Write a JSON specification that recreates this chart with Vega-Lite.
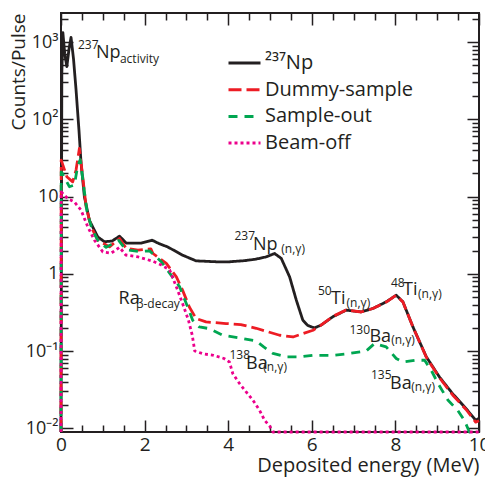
{
  "$schema": "https://vega.github.io/schema/vega-lite/v6.json",
  "width": 418,
  "height": 419,
  "autosize": {"type": "none"},
  "padding": {"left": 61, "top": 13, "right": 6, "bottom": 47},
  "config": {
    "font": "Open Sans",
    "view": {"stroke": "#231f20", "strokeWidth": 2},
    "axis": {"domain": false, "grid": false, "labelColor": "#231f20", "titleColor": "#231f20", "labelFont": "Open Sans", "titleFont": "Open Sans", "titleFontWeight": "normal"},
    "text": {"font": "Open Sans", "color": "#231f20"}
  },
  "datasets": {
    "curves": [
      {"s": "²³⁷Np", "E": 0.0, "v": 0.00895},
      {"s": "²³⁷Np", "E": 0.02, "v": 400},
      {"s": "²³⁷Np", "E": 0.045, "v": 1320},
      {"s": "²³⁷Np", "E": 0.09, "v": 700},
      {"s": "²³⁷Np", "E": 0.14, "v": 480},
      {"s": "²³⁷Np", "E": 0.19, "v": 800},
      {"s": "²³⁷Np", "E": 0.24, "v": 1150},
      {"s": "²³⁷Np", "E": 0.30, "v": 600},
      {"s": "²³⁷Np", "E": 0.36, "v": 240},
      {"s": "²³⁷Np", "E": 0.43, "v": 72},
      {"s": "²³⁷Np", "E": 0.48, "v": 27},
      {"s": "²³⁷Np", "E": 0.56, "v": 9.9},
      {"s": "²³⁷Np", "E": 0.68, "v": 4.9},
      {"s": "²³⁷Np", "E": 0.88, "v": 3.0},
      {"s": "²³⁷Np", "E": 1.04, "v": 2.6},
      {"s": "²³⁷Np", "E": 1.22, "v": 2.65},
      {"s": "²³⁷Np", "E": 1.40, "v": 3.07},
      {"s": "²³⁷Np", "E": 1.56, "v": 2.5},
      {"s": "²³⁷Np", "E": 1.92, "v": 2.5},
      {"s": "²³⁷Np", "E": 2.18, "v": 2.72},
      {"s": "²³⁷Np", "E": 2.35, "v": 2.45},
      {"s": "²³⁷Np", "E": 2.55, "v": 2.23},
      {"s": "²³⁷Np", "E": 2.91, "v": 1.74},
      {"s": "²³⁷Np", "E": 3.23, "v": 1.47},
      {"s": "²³⁷Np", "E": 3.71, "v": 1.43},
      {"s": "²³⁷Np", "E": 4.03, "v": 1.43},
      {"s": "²³⁷Np", "E": 4.4, "v": 1.48},
      {"s": "²³⁷Np", "E": 4.67, "v": 1.55},
      {"s": "²³⁷Np", "E": 4.9, "v": 1.65},
      {"s": "²³⁷Np", "E": 5.11, "v": 1.83},
      {"s": "²³⁷Np", "E": 5.27, "v": 1.58},
      {"s": "²³⁷Np", "E": 5.47, "v": 0.91},
      {"s": "²³⁷Np", "E": 5.63, "v": 0.455},
      {"s": "²³⁷Np", "E": 5.785, "v": 0.251},
      {"s": "²³⁷Np", "E": 5.9, "v": 0.215},
      {"s": "²³⁷Np", "E": 6.06, "v": 0.199},
      {"s": "²³⁷Np", "E": 6.22, "v": 0.216},
      {"s": "²³⁷Np", "E": 6.5, "v": 0.277},
      {"s": "²³⁷Np", "E": 6.82, "v": 0.338},
      {"s": "²³⁷Np", "E": 7.18, "v": 0.321},
      {"s": "²³⁷Np", "E": 7.46, "v": 0.355},
      {"s": "²³⁷Np", "E": 7.78, "v": 0.433},
      {"s": "²³⁷Np", "E": 8.02, "v": 0.528},
      {"s": "²³⁷Np", "E": 8.18, "v": 0.433},
      {"s": "²³⁷Np", "E": 8.42, "v": 0.205},
      {"s": "²³⁷Np", "E": 8.74, "v": 0.084},
      {"s": "²³⁷Np", "E": 9.055, "v": 0.046},
      {"s": "²³⁷Np", "E": 9.37, "v": 0.028},
      {"s": "²³⁷Np", "E": 9.69, "v": 0.018},
      {"s": "²³⁷Np", "E": 9.92, "v": 0.0127},
      {"s": "²³⁷Np", "E": 10.0, "v": 0.0135},

      {"s": "Dummy-sample", "E": 0.0, "v": 0.00895},
      {"s": "Dummy-sample", "E": 0.005, "v": 29.6},
      {"s": "Dummy-sample", "E": 0.14, "v": 18},
      {"s": "Dummy-sample", "E": 0.28, "v": 15.5},
      {"s": "Dummy-sample", "E": 0.36, "v": 22},
      {"s": "Dummy-sample", "E": 0.44, "v": 42},
      {"s": "Dummy-sample", "E": 0.52, "v": 18},
      {"s": "Dummy-sample", "E": 0.60, "v": 7.4},
      {"s": "Dummy-sample", "E": 0.72, "v": 4.06},
      {"s": "Dummy-sample", "E": 0.88, "v": 2.72},
      {"s": "Dummy-sample", "E": 1.16, "v": 2.23},
      {"s": "Dummy-sample", "E": 1.40, "v": 2.86},
      {"s": "Dummy-sample", "E": 1.56, "v": 2.13},
      {"s": "Dummy-sample", "E": 1.84, "v": 2.02},
      {"s": "Dummy-sample", "E": 2.15, "v": 2.1},
      {"s": "Dummy-sample", "E": 2.2, "v": 1.83},
      {"s": "Dummy-sample", "E": 2.52, "v": 1.36},
      {"s": "Dummy-sample", "E": 2.76, "v": 0.91},
      {"s": "Dummy-sample", "E": 2.91, "v": 0.61},
      {"s": "Dummy-sample", "E": 3.07, "v": 0.372},
      {"s": "Dummy-sample", "E": 3.23, "v": 0.264},
      {"s": "Dummy-sample", "E": 3.47, "v": 0.238},
      {"s": "Dummy-sample", "E": 3.95, "v": 0.227},
      {"s": "Dummy-sample", "E": 4.3, "v": 0.22},
      {"s": "Dummy-sample", "E": 4.67, "v": 0.197},
      {"s": "Dummy-sample", "E": 5.23, "v": 0.16},
      {"s": "Dummy-sample", "E": 5.55, "v": 0.152},
      {"s": "Dummy-sample", "E": 6.03, "v": 0.186},
      {"s": "Dummy-sample", "E": 6.22, "v": 0.216},
      {"s": "Dummy-sample", "E": 6.5, "v": 0.28},
      {"s": "Dummy-sample", "E": 6.82, "v": 0.34},
      {"s": "Dummy-sample", "E": 7.18, "v": 0.32},
      {"s": "Dummy-sample", "E": 7.46, "v": 0.355},
      {"s": "Dummy-sample", "E": 7.78, "v": 0.43},
      {"s": "Dummy-sample", "E": 8.02, "v": 0.53},
      {"s": "Dummy-sample", "E": 8.18, "v": 0.43},
      {"s": "Dummy-sample", "E": 8.42, "v": 0.205},
      {"s": "Dummy-sample", "E": 8.74, "v": 0.083},
      {"s": "Dummy-sample", "E": 9.055, "v": 0.045},
      {"s": "Dummy-sample", "E": 9.37, "v": 0.027},
      {"s": "Dummy-sample", "E": 9.69, "v": 0.0175},
      {"s": "Dummy-sample", "E": 9.92, "v": 0.012},
      {"s": "Dummy-sample", "E": 10.0, "v": 0.0125},

      {"s": "Sample-out", "E": 0.0, "v": 0.00895},
      {"s": "Sample-out", "E": 0.005, "v": 20.9},
      {"s": "Sample-out", "E": 0.04, "v": 19.5},
      {"s": "Sample-out", "E": 0.2, "v": 13.4},
      {"s": "Sample-out", "E": 0.32, "v": 14.1},
      {"s": "Sample-out", "E": 0.40, "v": 25},
      {"s": "Sample-out", "E": 0.46, "v": 30},
      {"s": "Sample-out", "E": 0.54, "v": 14},
      {"s": "Sample-out", "E": 0.62, "v": 6.5},
      {"s": "Sample-out", "E": 0.74, "v": 3.8},
      {"s": "Sample-out", "E": 0.9, "v": 2.6},
      {"s": "Sample-out", "E": 1.08, "v": 2.2},
      {"s": "Sample-out", "E": 1.38, "v": 2.7},
      {"s": "Sample-out", "E": 1.55, "v": 2.05},
      {"s": "Sample-out", "E": 1.85, "v": 1.95},
      {"s": "Sample-out", "E": 2.12, "v": 1.98},
      {"s": "Sample-out", "E": 2.4, "v": 1.43},
      {"s": "Sample-out", "E": 2.84, "v": 0.676},
      {"s": "Sample-out", "E": 3.03, "v": 0.372},
      {"s": "Sample-out", "E": 3.15, "v": 0.251},
      {"s": "Sample-out", "E": 3.31, "v": 0.205},
      {"s": "Sample-out", "E": 3.55, "v": 0.195},
      {"s": "Sample-out", "E": 3.87, "v": 0.16},
      {"s": "Sample-out", "E": 4.35, "v": 0.145},
      {"s": "Sample-out", "E": 4.67, "v": 0.135},
      {"s": "Sample-out", "E": 4.85, "v": 0.113},
      {"s": "Sample-out", "E": 5.07, "v": 0.093},
      {"s": "Sample-out", "E": 5.39, "v": 0.084},
      {"s": "Sample-out", "E": 5.71, "v": 0.084},
      {"s": "Sample-out", "E": 6.02, "v": 0.088},
      {"s": "Sample-out", "E": 6.5, "v": 0.088},
      {"s": "Sample-out", "E": 6.9, "v": 0.093},
      {"s": "Sample-out", "E": 7.3, "v": 0.1},
      {"s": "Sample-out", "E": 7.5, "v": 0.125},
      {"s": "Sample-out", "E": 7.78, "v": 0.113},
      {"s": "Sample-out", "E": 8.02, "v": 0.08},
      {"s": "Sample-out", "E": 8.18, "v": 0.072},
      {"s": "Sample-out", "E": 8.5, "v": 0.076},
      {"s": "Sample-out", "E": 8.7, "v": 0.076},
      {"s": "Sample-out", "E": 8.86, "v": 0.056},
      {"s": "Sample-out", "E": 9.02, "v": 0.038},
      {"s": "Sample-out", "E": 9.26, "v": 0.023},
      {"s": "Sample-out", "E": 9.49, "v": 0.0171},
      {"s": "Sample-out", "E": 9.65, "v": 0.0127},
      {"s": "Sample-out", "E": 9.77, "v": 0.00895},
      {"s": "Sample-out", "E": 9.85, "v": 0.00895},

      {"s": "Beam-off", "E": 0.0, "v": 0.00895},
      {"s": "Beam-off", "E": 0.005, "v": 11.5},
      {"s": "Beam-off", "E": 0.16, "v": 9.4},
      {"s": "Beam-off", "E": 0.32, "v": 8.5},
      {"s": "Beam-off", "E": 0.48, "v": 6.66},
      {"s": "Beam-off", "E": 0.64, "v": 4.06},
      {"s": "Beam-off", "E": 0.80, "v": 2.72},
      {"s": "Beam-off", "E": 1.0, "v": 1.92},
      {"s": "Beam-off", "E": 1.2, "v": 1.85},
      {"s": "Beam-off", "E": 1.4, "v": 2.2},
      {"s": "Beam-off", "E": 1.55, "v": 1.75},
      {"s": "Beam-off", "E": 1.85, "v": 1.65},
      {"s": "Beam-off", "E": 2.2, "v": 1.45},
      {"s": "Beam-off", "E": 2.4, "v": 1.3},
      {"s": "Beam-off", "E": 2.6, "v": 1.12},
      {"s": "Beam-off", "E": 2.75, "v": 0.7},
      {"s": "Beam-off", "E": 2.91, "v": 0.41},
      {"s": "Beam-off", "E": 3.05, "v": 0.25},
      {"s": "Beam-off", "E": 3.14, "v": 0.16},
      {"s": "Beam-off", "E": 3.2, "v": 0.1},
      {"s": "Beam-off", "E": 3.4, "v": 0.092},
      {"s": "Beam-off", "E": 3.65, "v": 0.088},
      {"s": "Beam-off", "E": 3.9, "v": 0.08},
      {"s": "Beam-off", "E": 4.03, "v": 0.072},
      {"s": "Beam-off", "E": 4.11, "v": 0.051},
      {"s": "Beam-off", "E": 4.27, "v": 0.038},
      {"s": "Beam-off", "E": 4.43, "v": 0.0295},
      {"s": "Beam-off", "E": 4.59, "v": 0.0231},
      {"s": "Beam-off", "E": 4.75, "v": 0.0171},
      {"s": "Beam-off", "E": 4.87, "v": 0.0127},
      {"s": "Beam-off", "E": 5.0, "v": 0.0105},
      {"s": "Beam-off", "E": 5.07, "v": 0.00895},
      {"s": "Beam-off", "E": 10.0, "v": 0.00895}
    ],
    "notes": [
      {"p": "sup", "t": "237", "E": 0.407, "v": 824},
      {"p": "main", "t": "Np", "E": 0.837, "v": 629},
      {"p": "sub", "t": "activity", "E": 1.41, "v": 535},
      {"p": "sup", "t": "237", "E": 4.151, "v": 2.72},
      {"p": "main", "t": "Np", "E": 4.593, "v": 2.02},
      {"p": "sub", "t": "(n,γ)", "E": 5.27, "v": 1.85},
      {"p": "main", "t": "Ra", "E": 1.376, "v": 0.404},
      {"p": "sub", "t": "β-decay", "E": 1.794, "v": 0.358},
      {"p": "sup", "t": "138", "E": 4.031, "v": 0.0794},
      {"p": "main", "t": "Ba", "E": 4.426, "v": 0.059},
      {"p": "sub", "t": "(n,γ)", "E": 4.84, "v": 0.0545},
      {"p": "sup", "t": "50", "E": 6.148, "v": 0.528},
      {"p": "main", "t": "Ti", "E": 6.459, "v": 0.41},
      {"p": "sub", "t": "(n,γ)", "E": 6.83, "v": 0.369},
      {"p": "sup", "t": "48", "E": 7.895, "v": 0.67},
      {"p": "main", "t": "Ti", "E": 8.182, "v": 0.528},
      {"p": "sub", "t": "(n,γ)", "E": 8.541, "v": 0.483},
      {"p": "sup", "t": "130", "E": 6.902, "v": 0.1675},
      {"p": "main", "t": "Ba", "E": 7.38, "v": 0.131},
      {"p": "sub", "t": "(n,γ)", "E": 7.9, "v": 0.122},
      {"p": "sup", "t": "135", "E": 7.416, "v": 0.0438},
      {"p": "main", "t": "Ba", "E": 7.871, "v": 0.0325},
      {"p": "sub", "t": "(n,γ)", "E": 8.38, "v": 0.0305}
    ]
  },
  "resolve": {"axis": {"x": "independent", "y": "independent"}},
  "layer": [
    {
      "data": {"name": "curves"},
      "mark": {"type": "point", "opacity": 0},
      "encoding": {
        "x": {"field": "E", "type": "quantitative", "scale": {"domain": [0, 10], "nice": false, "zero": false},
          "axis": {"orient": "bottom", "values": [0.5, 1, 1.5, 2.5, 3, 3.5, 4.5, 5, 5.5, 6.5, 7, 7.5, 8.5, 9, 9.5], "ticks": true, "tickColor": "#231f20", "tickWidth": 1.5, "tickSize": 7, "offset": -7, "labels": false, "title": null}},
        "y": {"field": "v", "type": "quantitative", "scale": {"type": "log", "domain": [0.00895, 2375], "nice": false},
          "axis": {"orient": "left", "values": [0.02,0.03,0.04,0.05,0.06,0.07,0.08,0.09,0.2,0.3,0.4,0.5,0.6,0.7,0.8,0.9,2,3,4,5,6,7,8,9,20,30,40,50,60,70,80,90,200,300,400,500,600,700,800,900,2000], "ticks": true, "tickColor": "#231f20", "tickWidth": 1.5, "tickSize": 7, "offset": -7, "labels": false, "title": null}}
      }
    },
    {
      "data": {"name": "curves"},
      "mark": {"type": "point", "opacity": 0},
      "encoding": {
        "x": {"field": "E", "type": "quantitative", "scale": {"domain": [0, 10], "nice": false, "zero": false},
          "axis": {"orient": "top", "values": [0, 2, 4, 6, 8, 10], "ticks": true, "tickColor": "#231f20", "tickWidth": 1.5, "tickSize": 12, "offset": -12, "labels": false, "title": null}},
        "y": {"field": "v", "type": "quantitative", "scale": {"type": "log", "domain": [0.00895, 2375], "nice": false},
          "axis": {"orient": "right", "values": [0.01, 0.1, 1, 10, 100, 1000], "ticks": true, "tickColor": "#231f20", "tickWidth": 1.5, "tickSize": 12, "offset": -12, "labels": false, "title": null}}
      }
    },
    {
      "data": {"name": "curves"},
      "mark": {"type": "point", "opacity": 0},
      "encoding": {
        "x": {"field": "E", "type": "quantitative", "scale": {"domain": [0, 10], "nice": false, "zero": false},
          "axis": {"orient": "top", "values": [0.5, 1, 1.5, 2.5, 3, 3.5, 4.5, 5, 5.5, 6.5, 7, 7.5, 8.5, 9, 9.5], "ticks": true, "tickColor": "#231f20", "tickWidth": 1.5, "tickSize": 7, "offset": -7, "labels": false, "title": null}},
        "y": {"field": "v", "type": "quantitative", "scale": {"type": "log", "domain": [0.00895, 2375], "nice": false},
          "axis": {"orient": "right", "values": [0.02,0.03,0.04,0.05,0.06,0.07,0.08,0.09,0.2,0.3,0.4,0.5,0.6,0.7,0.8,0.9,2,3,4,5,6,7,8,9,20,30,40,50,60,70,80,90,200,300,400,500,600,700,800,900,2000], "ticks": true, "tickColor": "#231f20", "tickWidth": 1.5, "tickSize": 7, "offset": -7, "labels": false, "title": null}}
      }
    },
    {
      "data": {"name": "curves"},
      "mark": {"type": "line", "strokeWidth": 2.8, "strokeCap": "butt", "strokeJoin": "round"},
      "encoding": {
        "x": {"field": "E", "type": "quantitative", "scale": {"domain": [0, 10], "nice": false, "zero": false},
          "axis": {"orient": "bottom", "values": [0, 2, 4, 6, 8, 10], "ticks": true, "tickColor": "#231f20", "tickWidth": 1.5, "tickSize": 12, "offset": -12, "labelFontSize": 19, "labelPadding": 3, "labelFlush": false, "title": "Deposited energy (MeV)", "titleFontSize": 20, "titleAnchor": "end", "titlePadding": 1}},
        "y": {"field": "v", "type": "quantitative", "scale": {"type": "log", "domain": [0.00895, 2375], "nice": false},
          "axis": {"orient": "left", "values": [0.01, 0.1, 1, 10, 100, 1000], "ticks": true, "tickColor": "#231f20", "tickWidth": 1.5, "tickSize": 12, "offset": -12, "labelFontSize": 18, "labelPadding": 3, "labelFlush": false,
            "labelExpr": "datum.value > 500 ? '10³' : datum.value > 50 ? '10²' : datum.value > 5 ? '10' : datum.value > 0.5 ? '1' : datum.value > 0.05 ? '10⁻¹' : '10⁻²'",
            "title": "Counts/Pulse", "titleFontSize": 19, "titleAnchor": "end", "titlePadding": -3}},
        "color": {"field": "s", "type": "nominal",
          "scale": {"domain": ["²³⁷Np", "Dummy-sample", "Sample-out", "Beam-off"], "range": ["#231f20", "#ed1c24", "#00a651", "#ec008c"]},
          "legend": {"title": null, "orient": "none", "legendX": 166, "legendY": 38, "symbolType": "stroke", "symbolSize": 1024, "symbolStrokeWidth": 3, "labelFontSize": 20, "labelOffset": 3, "clipHeight": 24, "rowPadding": 2.7, "labelColor": "#231f20", "labelLimit": 300}},
        "strokeDash": {"field": "s", "type": "nominal",
          "scale": {"domain": ["²³⁷Np", "Dummy-sample", "Sample-out", "Beam-off"], "range": [[1, 0], [13, 5], [9, 7], [3, 3]]},
          "legend": {"title": null, "orient": "none", "legendX": 166, "legendY": 38, "symbolType": "stroke", "symbolSize": 1024, "symbolStrokeWidth": 3, "labelFontSize": 20, "labelOffset": 3, "clipHeight": 24, "rowPadding": 2.7, "labelColor": "#231f20", "labelLimit": 300}}
      }
    },
    {
      "data": {"name": "notes"},
      "transform": [{"filter": "datum.p == 'main'"}],
      "mark": {"type": "text", "align": "left", "baseline": "alphabetic", "fontSize": 18},
      "encoding": {
        "x": {"field": "E", "type": "quantitative", "scale": {"domain": [0, 10], "nice": false, "zero": false}, "axis": null},
        "y": {"field": "v", "type": "quantitative", "scale": {"type": "log", "domain": [0.00895, 2375], "nice": false}, "axis": null},
        "text": {"field": "t"}
      }
    },
    {
      "data": {"name": "notes"},
      "transform": [{"filter": "datum.p == 'sup'"}],
      "mark": {"type": "text", "align": "left", "baseline": "alphabetic", "fontSize": 12},
      "encoding": {
        "x": {"field": "E", "type": "quantitative", "scale": {"domain": [0, 10], "nice": false, "zero": false}, "axis": null},
        "y": {"field": "v", "type": "quantitative", "scale": {"type": "log", "domain": [0.00895, 2375], "nice": false}, "axis": null},
        "text": {"field": "t"}
      }
    },
    {
      "data": {"name": "notes"},
      "transform": [{"filter": "datum.p == 'sub'"}],
      "mark": {"type": "text", "align": "left", "baseline": "alphabetic", "fontSize": 12},
      "encoding": {
        "x": {"field": "E", "type": "quantitative", "scale": {"domain": [0, 10], "nice": false, "zero": false}, "axis": null},
        "y": {"field": "v", "type": "quantitative", "scale": {"type": "log", "domain": [0.00895, 2375], "nice": false}, "axis": null},
        "text": {"field": "t"}
      }
    }
  ]
}
